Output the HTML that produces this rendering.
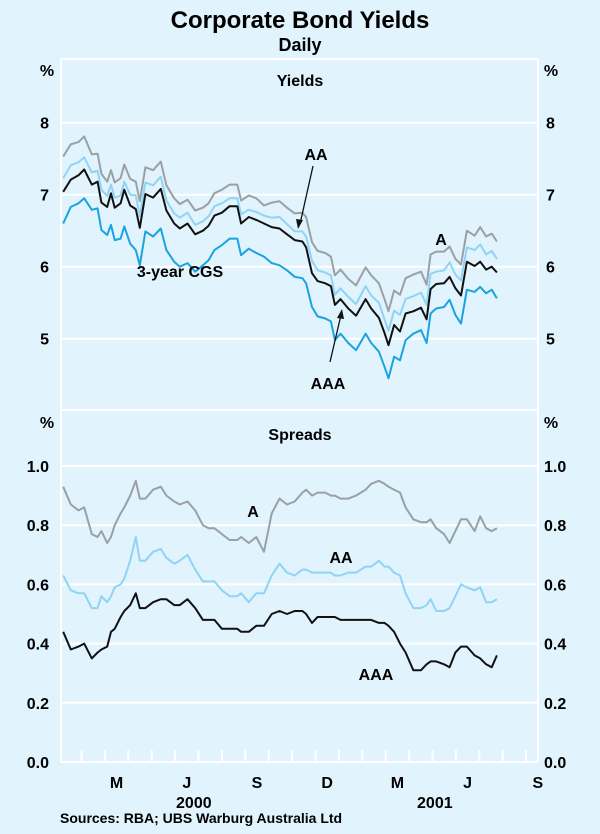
<!DOCTYPE html>
<html><head><meta charset="utf-8"><style>
body{margin:0;background:#e1f3fd;}
svg{display:block;font-family:"Liberation Sans",sans-serif;}
</style></head><body>
<svg id="c" width="600" height="834" viewBox="0 0 600 834">
<rect x="0" y="0" width="600" height="834" fill="#e1f3fd"/>
<text x="300" y="28" text-anchor="middle" font-size="24" font-weight="bold">Corporate Bond Yields</text>
<text x="300" y="51" text-anchor="middle" font-size="18" font-weight="bold">Daily</text>
<g id="grid"></g>
<g id="lines"></g>
<g id="labels" font-size="16" font-weight="bold"></g>
</svg>
<script>
const dates=[0.216,0.543,0.87,1.115,1.44,1.69,1.85,2.10,2.26,2.42,2.67,2.83,3.08,3.32,3.49,3.73,4.06,4.39,4.63,4.96,5.20,5.53,5.86,6.19,6.43,6.68,7.00,7.33,7.66,7.82,8.15,8.47,8.80,9.13,9.46,9.78,10.11,10.44,10.60,10.85,11.09,11.42,11.66,11.83,12.07,12.40,12.73,13.14,13.38,13.71,13.95,14.12,14.36,14.61,14.85,15.18,15.51,15.75,15.92,16.16,16.49,16.73,16.98,17.22,17.47,17.80,18.04,18.29,18.53,18.75];
const cgs=[6.60,6.83,6.88,6.95,6.79,6.81,6.51,6.44,6.58,6.37,6.39,6.56,6.32,6.23,6.02,6.49,6.42,6.53,6.23,6.07,6.00,6.05,5.93,6.02,6.09,6.23,6.30,6.39,6.39,6.16,6.25,6.19,6.14,6.05,6.02,5.95,5.86,5.84,5.77,5.44,5.31,5.28,5.24,4.98,5.07,4.94,4.84,5.07,4.94,4.82,4.61,4.45,4.75,4.70,4.98,5.07,5.12,4.94,5.35,5.42,5.44,5.54,5.33,5.21,5.68,5.65,5.72,5.63,5.68,5.56];
const spreadA=[.93,.87,.85,.86,.77,.76,.78,.74,.76,.80,.84,.86,.90,.95,.89,.89,.92,.93,.90,.88,.87,.88,.85,.80,.79,.79,.77,.75,.75,.76,.74,.76,.71,.84,.89,.87,.88,.91,.92,.90,.91,.91,.90,.90,.89,.89,.90,.92,.94,.95,.94,.93,.92,.91,.86,.82,.81,.81,.82,.79,.77,.74,.78,.82,.82,.78,.83,.79,.78,.79];
const spreadAA=[.63,.58,.57,.57,.52,.52,.56,.54,.56,.59,.60,.62,.68,.76,.68,.68,.71,.72,.69,.67,.68,.70,.65,.61,.61,.61,.58,.56,.56,.57,.54,.57,.57,.63,.67,.64,.63,.65,.65,.64,.64,.64,.64,.63,.63,.64,.64,.66,.66,.68,.66,.66,.64,.63,.57,.52,.52,.53,.55,.51,.51,.52,.56,.60,.59,.58,.59,.54,.54,.55];
const spreadAAA=[.44,.38,.39,.40,.35,.37,.38,.39,.44,.45,.49,.51,.53,.57,.52,.52,.54,.55,.55,.53,.53,.55,.52,.48,.48,.48,.45,.45,.45,.44,.44,.46,.46,.50,.51,.50,.51,.51,.50,.47,.49,.49,.49,.49,.48,.48,.48,.48,.48,.47,.47,.46,.44,.40,.37,.31,.31,.33,.34,.34,.33,.32,.37,.39,.39,.36,.35,.33,.32,.36];
const yieldTicks=[5,6,7,8];
const spreadTicks=[0.0,0.2,0.4,0.6,0.8,1.0];
const monthLabels=["M","J","S","D","M","J","S"];
const monthLabelPos=[2.5,5.5,8.5,11.5,14.5,17.5,20.5];
const yearLabels=["2000","2001"];
const yearLabelPos=[5.8,16.1];

const NS="http://www.w3.org/2000/svg";
const L=61,R=538;
const xS=m=>58.1+m*23.4;
const yT=v=>122.7+(8-v)*72;
const yB=v=>762-v*296;
function mk(tag,attrs,parent){const e=document.createElementNS(NS,tag);for(const k in attrs)e.setAttribute(k,attrs[k]);parent.appendChild(e);return e;}
const grid=document.getElementById('grid'),lines=document.getElementById('lines'),labels=document.getElementById('labels');

let e;
e=mk('line',{x1:L,y1:59,x2:L,y2:762,stroke:'#fff','stroke-width':2},grid);


e=mk('line',{x1:R,y1:59,x2:R,y2:762,stroke:'#fff','stroke-width':2},grid);


e=mk('line',{x1:L,y1:59,x2:R,y2:59,stroke:'#fff','stroke-width':2},grid);


e=mk('line',{x1:L,y1:410,x2:R,y2:410,stroke:'#fff','stroke-width':2},grid);



yieldTicks.forEach(v=>{
 const y=yT(v);
 e=mk('line',{x1:L,y1:y,x2:R,y2:y,stroke:'#fff','stroke-width':2},grid);
 
 
 e=mk('text',{x:L-12,y:y+6,'text-anchor':'end'},labels);e.textContent=v;
 
 
 e=mk('text',{x:R+8,y:y+6,'text-anchor':'start'},labels);e.textContent=v;
 
 
});
spreadTicks.forEach(v=>{
 const y=yB(v);
 e=mk('line',{x1:L,y1:y,x2:R,y2:y,stroke:'#fff','stroke-width':2},grid);
 
 
 e=mk('text',{x:L-12,y:y+6,'text-anchor':'end'},labels);e.textContent=v.toFixed(1);
 
 
 e=mk('text',{x:R+6,y:y+6,'text-anchor':'start'},labels);e.textContent=v.toFixed(1);
 
 
});
for(let m=1;m<=20;m++){
 const x=xS(m);
 e=mk('line',{x1:x,y1:750,x2:x,y2:762,stroke:'#fff','stroke-width':2},grid);
 
 
}
monthLabels.forEach((t,i)=>{
 e=mk('text',{x:xS(monthLabelPos[i]),y:788,'text-anchor':'middle'},labels);e.textContent=t;
 
 
});
yearLabels.forEach((t,i)=>{
 e=mk('text',{x:xS(yearLabelPos[i]),y:808,'text-anchor':'middle'},labels);e.textContent=t;
 
 
});

function path(vals,ys,color,name){
 const d=vals.map((v,i)=>(i?'L':'M')+xS(dates[i]).toFixed(1)+','+ys(v).toFixed(1)).join('');
 const p=mk('path',{d:d,fill:'none',stroke:color,'stroke-width':2,'stroke-linejoin':'round'},lines);
 
 
}
const yA=cgs.map((c,i)=>c+spreadA[i]);
const yAA=cgs.map((c,i)=>c+spreadAA[i]);
const yAAA=cgs.map((c,i)=>c+spreadAAA[i]);
path(yA,yT,'#9aa0a4','yield-a-line');
path(yAA,yT,'#8fd4f4','yield-aa-line');
path(yAAA,yT,'#111','yield-aaa-line');
path(cgs,yT,'#1aa3e0','yield-cgs-line');
path(spreadA,yB,'#9aa0a4','spread-a-line');
path(spreadAA,yB,'#8fd4f4','spread-aa-line');
path(spreadAAA,yB,'#111','spread-aaa-line');

function txt(x,y,s,name,anchor){e=mk('text',{x:x,y:y,'text-anchor':anchor||'middle'},labels);e.textContent=s;
 
 }
txt(47,76,'%','left-unit-top');txt(551,76,'%','right-unit-top');
txt(47,428,'%','left-unit-bottom');txt(551,428,'%','right-unit-bottom');
txt(300,86,'Yields','yields-panel-title');
txt(300,440,'Spreads','spreads-panel-title');
txt(316,160,'AA','yield-aa-label');
txt(441,245,'A','yield-a-label');
txt(180,277,'3-year CGS','yield-cgs-label');
txt(328,389,'AAA','yield-aaa-label');
txt(253,517,'A','spread-a-label');
txt(341,563,'AA','spread-aa-label');
txt(376,680,'AAA','spread-aaa-label');
e=mk('text',{x:60,y:823,'font-size':14},labels);e.textContent='Sources: RBA; UBS Warburg Australia Ltd';


e=mk('path',{d:'M313,166 L300,224',stroke:'#111','stroke-width':1.3,fill:'none'},labels);


e=mk('path',{d:'M298,229 L296,219 L303,220 Z',fill:'#111'},labels);


e=mk('path',{d:'M330,362 L341,315',stroke:'#111','stroke-width':1.3,fill:'none'},labels);


e=mk('path',{d:'M342,309 L344,319 L337,318 Z',fill:'#111'},labels);


</script>
</body></html>
